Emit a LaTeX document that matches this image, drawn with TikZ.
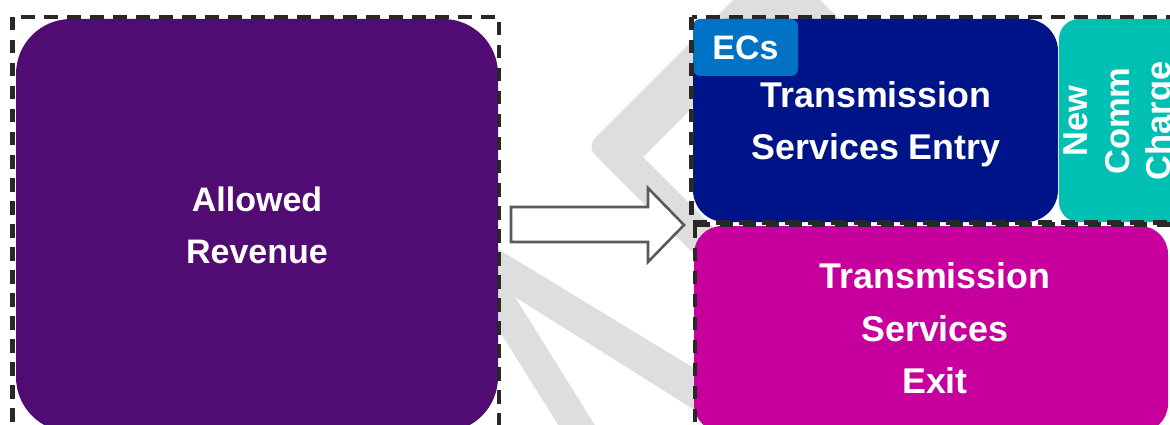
\documentclass[tikz,border=0pt]{standalone}
\usepackage{fontspec}
\setmainfont{Liberation Sans}
\definecolor{revpurple}{RGB}{80,12,114}
\definecolor{entrynavy}{RGB}{0,20,137}
\definecolor{ecblue}{RGB}{0,114,198}
\definecolor{ncteal}{RGB}{0,191,179}
\definecolor{exitmagenta}{RGB}{199,0,157}
\definecolor{wmgray}{RGB}{222,222,222}
\definecolor{dashgray}{RGB}{40,40,40}
\definecolor{arrowgray}{RGB}{90,90,90}
\begin{document}
\begin{tikzpicture}[x=1pt,y=-1pt,
  box/.style={draw=none, inner sep=0pt, text=white, align=center,
    font=\bfseries\fontsize{34}{52.5}\selectfont},
  bigtext/.style={font=\bfseries\fontsize{35.8}{52.5}\selectfont},
  dashbox/.style={draw=dashgray, line width=4.5pt, dash pattern=on 13.5pt off 9.5pt},
  wm/.style={fill=wmgray, draw=none},
  blockarrow/.style={draw=arrowgray, fill=white, line width=2.6pt, line join=miter}]
\useasboundingbox (0,0) rectangle (1170,425);
\clip (0,0) rectangle (1170,425);
% watermark
\fill[wm] (745,-12) [rounded corners=12pt] -- (586.5,146.5) -- (712,272) [sharp corners] -- (712,226)
  -- (643,157) -- (760,40) -- (860,40) -- (808,-12) -- cycle;
\fill[wm] (480,238) -- (720,384) -- (720,426) -- (515,297) -- (596,427) -- (559.5,427) -- (480,300) -- cycle;
% boxes
\node[box, fill=revpurple, minimum width=482pt, minimum height=413pt, rounded corners=55pt]
  (rev) at (257,225.5) {Allowed\\Revenue};
\node[box, fill=entrynavy, minimum width=365pt, minimum height=203pt, rounded corners=32pt]
  (entry) at (875.5,120.5) {};
\node[box, bigtext] (entrytext) at (876,124) {Transmission\\Services Entry};
\node[box, fill=ecblue, minimum width=105pt, minimum height=57pt, rounded corners=7pt]
  (ecs) at (745.5,47.5) {ECs};
\node[box, fill=ncteal, minimum width=160pt, minimum height=203pt, rounded corners=20pt]
  (ncc) at (1139,120.5) {};
\node[box, rotate=90, font=\bfseries\fontsize{34.5}{41.5}\selectfont]
  (ncctext) at (1121,121) {New\\Comm\\Charge};
\node[box, fill=exitmagenta, minimum width=474pt, minimum height=206pt, rounded corners=28pt]
  (exit) at (931,329) {};
\node[box, bigtext] (exittext) at (935,328.5) {Transmission\\Services\\Exit};
% dashed frames
\draw[dashbox] (12.5,17) rectangle (499,450);
\draw[dashbox] (691.5,17) rectangle (1190,222.5);
\draw[dashbox] (695,224.5) rectangle (1190,450);
% block arrow
\draw[blockarrow] (511,207) -- (648,207) -- (648,188) -- (684,225) -- (648,262) -- (648,242) -- (511,242) -- cycle;
\end{tikzpicture}
\end{document}
